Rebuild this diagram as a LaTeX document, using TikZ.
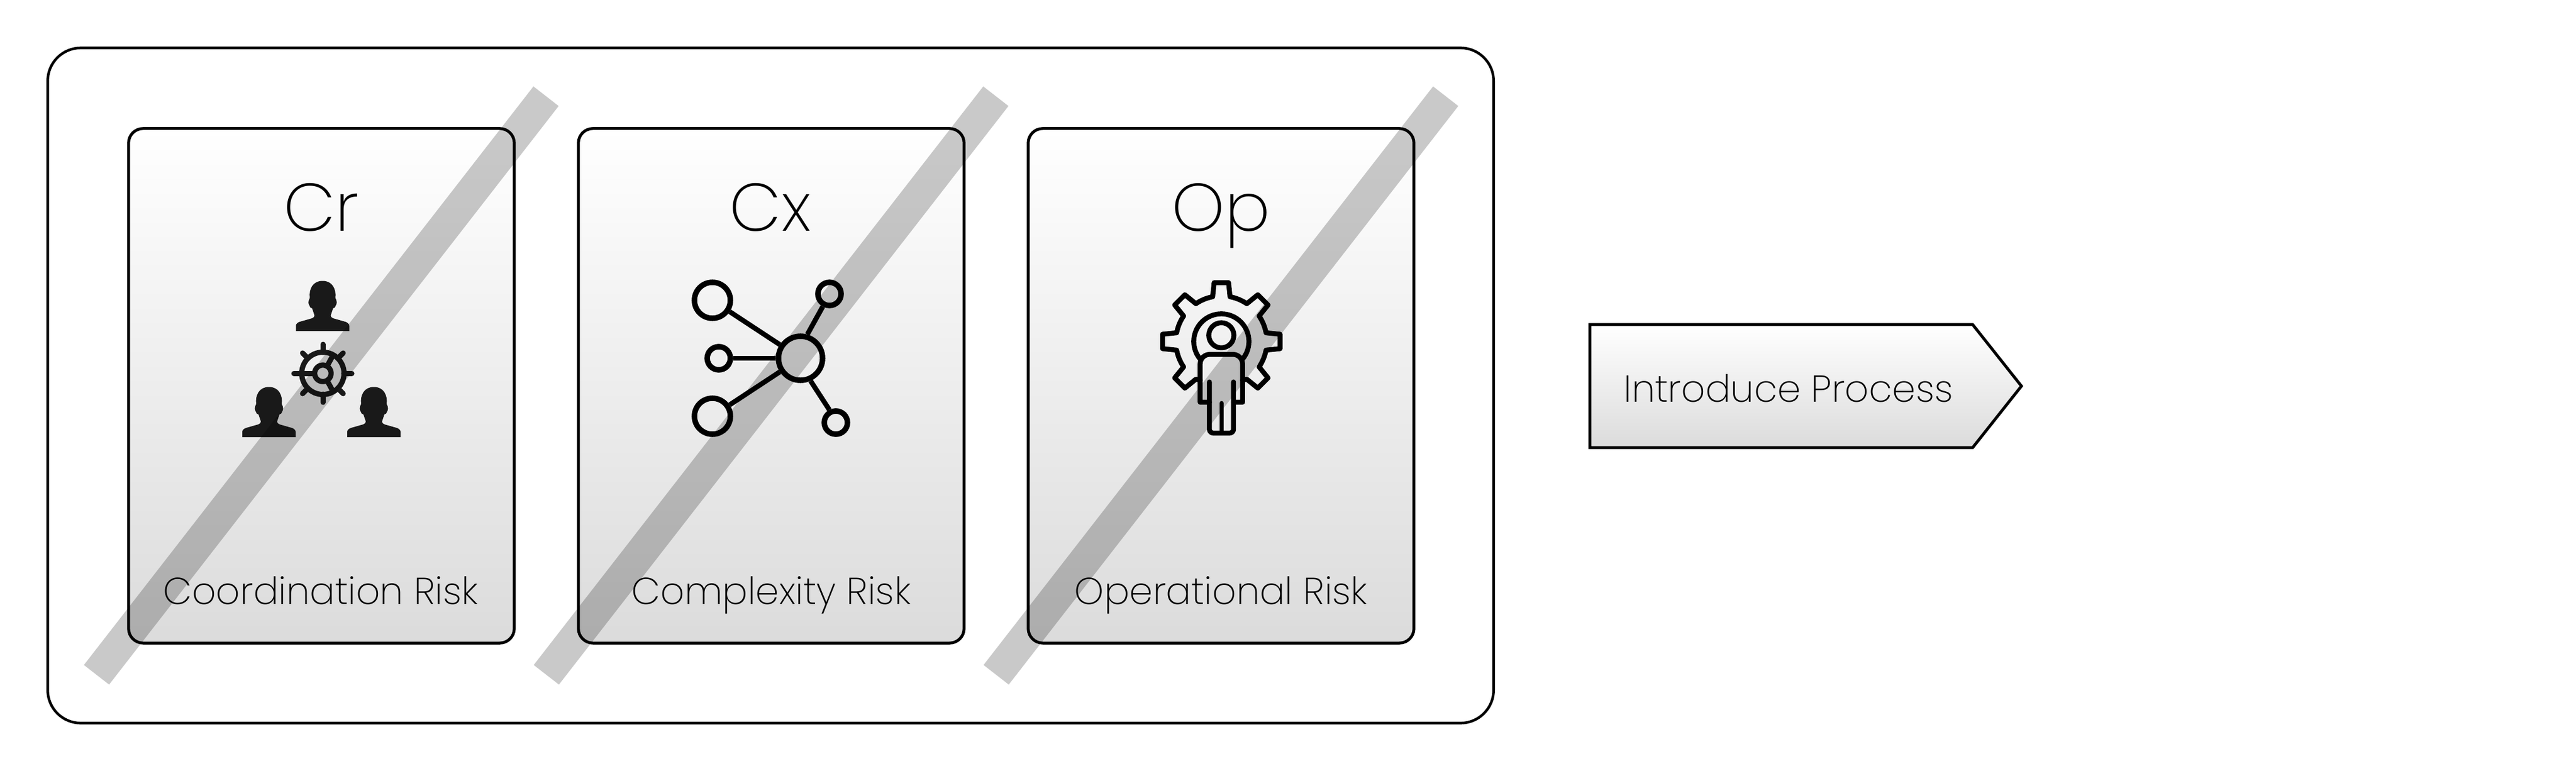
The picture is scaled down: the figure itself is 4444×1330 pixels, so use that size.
\documentclass[tikz,border=0pt]{standalone}
\usepackage{fontspec}
\setmainfont{Poppins}[UprightFont=* ExtraLight]
\usepackage{tikz}
\usetikzlibrary{positioning, shapes}
\usetikzlibrary{arrows.meta}

\begin{document}
\begin{tikzpicture}[x=0.01cm, y=-0.01cm]
            \definecolor{cardbottom}{gray}{0.86}
            \definecolor{figure}{gray}{0.1}
            \tikzset{outerbox/.style = {draw, line width=0.045cm, rounded corners=0.57cm, minimum width=24.93cm, minimum height=11.64cm}}
            \tikzset{card/.style = {draw, line width=0.05cm, rounded corners=0.25cm, top color=white, bottom color=cardbottom, minimum width=6.65cm, minimum height=8.87cm}}
            \tikzset{heading/.style = {anchor=base, inner sep=0pt, font=\fontsize{33}{33}\selectfont}}
            \tikzset{caption/.style = {anchor=base, inner sep=0pt, font=\fontsize{18.4}{18.4}\selectfont}}
            \tikzset{crossbar/.style = {line width=0.55cm, black, opacity=0.21}}
            \tikzset{iconline/.style = {line width=0.09cm, line cap=round, line join=round}}
            \tikzset{netnode/.style = {circle, draw, line width=0.095cm, inner sep=0pt, minimum size=#1}}
            \tikzset{netedge/.style = {line width=0.085cm}}
            \tikzset{processbox/.style = {signal, signal to=east, signal pointer angle=103.2, draw, line width=0.05cm, top color=white, bottom color=cardbottom, minimum width=7.44cm, minimum height=2.12cm, inner sep=0pt}}
            \tikzset{person/.pic = {
                \fill[figure] (-46,0) -- (-46,-9) .. controls (-46,-12) and (-43,-15) .. (-39,-16) -- (-18,-22)
                    .. controls (-15,-23) and (-14,-25) .. (-14,-27) -- (-18,-39) .. controls (-21,-40) and (-22,-41) .. (-22.7,-44)
                    .. controls (-25,-47) and (-25,-52) .. (-22,-57) .. controls (-24,-72) and (-17,-86.5) .. (0,-86.5)
                    .. controls (17,-86.5) and (24,-72) .. (22,-57) .. controls (25,-52) and (25,-47) .. (22.7,-44)
                    .. controls (22,-41) and (21,-40) .. (18,-39) -- (14,-27) .. controls (14,-25) and (15,-23) .. (18,-22)
                    -- (39,-16) .. controls (43,-15) and (46,-12) .. (46,-9) -- (46,0) -- cycle;
            }}

            \useasboundingbox (0,0) rectangle (4444,1330);

            % outer frame
            \node[outerbox] (frame) at (1329.5,665) {};

            % three risk cards
            \node[card] (crcard) at (554.5,665.5) {};
            \node[card] (cxcard) at (1330.5,665.5) {};
            \node[card] (opcard) at (2106.5,665.5) {};

            \node[heading] (crhead) at (554.5,398) {Cr};
            \node[heading] (cxhead) at (1329,398) {Cx};
            \node[heading] (ophead) at (2106.5,398) {Op};

            \node[caption] (crtext) at (553,1042) {Coordination Risk};
            \node[caption] (cxtext) at (1330.5,1042) {Complexity Risk};
            \node[caption] (optext) at (2106.5,1042) {Operational Risk};

            % people around a wheel
            \pic at (556.5,571) {person};
            \pic at (464,754) {person};
            \pic at (645,754) {person};
            \begin{scope}[shift={(557,644)}]
                \draw[iconline, figure] (0,0) circle (36.5);
                \draw[iconline, figure] (0,0) circle (14.2);
                \draw[iconline, figure, line cap=butt] (-14,0) -- (-36,0);
                \draw[iconline, figure, line cap=butt] (7,-12) -- (18,-32);
                \draw[iconline, figure, line cap=butt] (7,12) -- (18,32);
                \draw[iconline, figure] (-36,0) -- (-50,0);
                \draw[iconline, figure] (36,0) -- (50,0);
                \draw[iconline, figure] (0,-36) -- (0,-50);
                \draw[iconline, figure] (0,36) -- (0,50);
                \draw[iconline, figure] (-26,-26) -- (-35,-35);
                \draw[iconline, figure] (26,-26) -- (35,-35);
                \draw[iconline, figure] (-26,26) -- (-35,35);
                \draw[iconline, figure] (26,26) -- (35,35);
            \end{scope}

            % network
            \node[netnode=0.76cm] (hub) at (1381,618) {};
            \node[netnode=0.62cm] (nettl) at (1229,518) {};
            \node[netnode=0.40cm] (netml) at (1240,618) {};
            \node[netnode=0.62cm] (netbl) at (1229,718) {};
            \node[netnode=0.40cm] (nettr) at (1431,507) {};
            \node[netnode=0.40cm] (netbr) at (1442,729) {};
            \draw[netedge] (hub) -- (nettl);
            \draw[netedge] (hub) -- (netml);
            \draw[netedge] (hub) -- (netbl);
            \draw[netedge] (hub.74) -- (nettr.242);
            \draw[netedge] (hub.-66) -- (netbr.117);

            % person in front of a gear (numbers are thirds of a unit here)
            \begin{scope}[shift={(2107,589)}, x=0.00333cm, y=0.00333cm]
                \draw[iconline, line width=0.085cm] (110,-200) -- (304:236) -- (-52:307) -- (-38:307) -- (-34:236)
                    \foreach \a in {0,45,...,225} {
                        arc[start angle=\a-34, end angle=\a-11, radius=236] -- (\a-7:307) -- (\a+7:307) -- (\a+11:236)
                    } -- (-110,-200);
                \draw[iconline, line width=0.085cm] (-40:143) arc[start angle=-40, end angle=220, radius=143];
                \draw[iconline, line width=0.085cm] (0,32) circle (65);
                \draw[iconline, line width=0.085cm] (-62,-315) -- (-110,-315) -- (-110,-117) arc[start angle=180, end angle=90, radius=50]
                    -- (60,-67) arc[start angle=90, end angle=0, radius=50] -- (110,-315) -- (63,-315);
                \draw[iconline, line width=0.085cm] (-62,-210) -- (-62,-455) arc[start angle=180, end angle=270, radius=20]
                    -- (43,-475) arc[start angle=270, end angle=360, radius=20] -- (63,-210);
                \draw[iconline, line width=0.075cm] (1,-320) -- (1,-475);
            \end{scope}

            % strike-through bars
            \draw[crossbar] (942,166) -- (166.5,1164);
            \draw[crossbar] (1718,166) -- (942.5,1164);
            \draw[crossbar] (2494,166) -- (1718.5,1164);

            % process step
            \node[processbox] (process) at (3073,666) {};
            \node[caption] (processtext) at (3085.5,693) {Introduce Process};
\end{tikzpicture}
\end{document}
